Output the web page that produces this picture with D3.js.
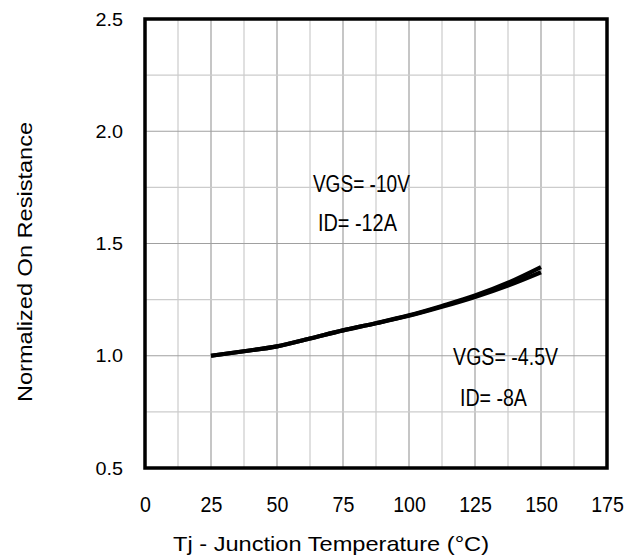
<!DOCTYPE html>
<html><head><meta charset="utf-8">
<script src="https://cdn.jsdelivr.net/npm/d3@7"></script>
<style>body{margin:0;background:#fff}</style>
</head><body>
<svg id="c" width="640" height="560"></svg>
<script>
const temps = [25, 37.5, 50, 62.5, 75, 87.5, 100, 112.5, 125, 137.5, 150];
const seriesVgs10 = [1.0, 1.02, 1.042, 1.077, 1.113, 1.145, 1.18, 1.222, 1.268, 1.325, 1.395];
const seriesVgs45 = [1.0, 1.02, 1.042, 1.077, 1.113, 1.145, 1.178, 1.218, 1.262, 1.313, 1.372];
const xTicks = [0, 25, 50, 75, 100, 125, 150, 175];
const yTicks = [0.5, 1.0, 1.5, 2.0, 2.5];
const labels = [
  {x: 63.6, y: 1.728, text: "VGS= -10V", w: 97},
  {x: 65.5, y: 1.555, text: "ID= -12A", w: 79},
  {x: 116.7, y: 0.959, text: "VGS= -4.5V", w: 105},
  {x: 119.3, y: 0.778, text: "ID= -8A", w: 67}
];

const svg = d3.select("#c");
const L = 145, R = 607, T = 19, B = 468;
const x = d3.scaleLinear().domain([0, 175]).range([L, R]);
const y = d3.scaleLinear().domain([0.5, 2.5]).range([B, T]);
const font = "'Liberation Sans',Arial,sans-serif";

// grid
const xg = d3.range(0, 175.1, 12.5), yg = d3.range(0.5, 2.51, 0.25);
svg.append("g").selectAll("line").data(xg).join("line")
  .attr("x1", d => x(d)).attr("x2", d => x(d)).attr("y1", T).attr("y2", B)
  .attr("stroke", d => d % 25 === 0 ? "#a0a0a0" : "#cccccc").attr("stroke-width", 1.2);
svg.append("g").selectAll("line").data(yg).join("line")
  .attr("y1", d => y(d)).attr("y2", d => y(d)).attr("x1", L).attr("x2", R)
  .attr("stroke", d => Math.abs(d * 2 - Math.round(d * 2)) < 1e-6 ? "#a0a0a0" : "#cccccc").attr("stroke-width", 1.2);

// axes (labels only)
const xa = svg.append("g").attr("transform", `translate(0,${B})`)
  .call(d3.axisBottom(x).tickValues(xTicks).tickSize(0).tickPadding(28).tickFormat(d3.format("d")));
const ya = svg.append("g").attr("transform", `translate(${L},0)`)
  .call(d3.axisLeft(y).tickValues(yTicks).tickSize(0).tickPadding(22).tickFormat(d3.format(".1f")));
xa.select(".domain").remove();
ya.select(".domain").remove();
xa.selectAll("text").attr("font-family", font).attr("font-size", 22).attr("fill", "#000")
  .attr("textLength", function() { return this.textContent.length * 10.9; })
  .attr("lengthAdjust", "spacingAndGlyphs");
ya.selectAll("text").attr("font-family", font).attr("font-size", 19).attr("fill", "#000")
  .attr("textLength", 27.5).attr("lengthAdjust", "spacingAndGlyphs");

// frame
svg.append("rect").attr("x", L).attr("y", T).attr("width", R - L).attr("height", B - T)
  .attr("fill", "none").attr("stroke", "#000").attr("stroke-width", 3.5);

// curves
const line = d3.line().x((d, i) => x(temps[i])).y(d => y(d)).curve(d3.curveMonotoneX);
[seriesVgs10, seriesVgs45].forEach(s => {
  svg.append("path").datum(s).attr("d", line).attr("fill", "none")
    .attr("stroke", "#000").attr("stroke-width", 4.2).attr("stroke-linecap", "butt");
});

// annotations
svg.append("g").selectAll("text").data(labels).join("text")
  .attr("x", d => x(d.x)).attr("y", d => y(d.y))
  .attr("font-family", font).attr("font-size", 23).attr("fill", "#000")
  .attr("textLength", d => d.w).attr("lengthAdjust", "spacingAndGlyphs")
  .text(d => d.text);

// axis titles
svg.append("text").attr("x", 173).attr("y", 551)
  .attr("font-family", font).attr("font-size", 21).attr("textLength", 316).attr("lengthAdjust", "spacingAndGlyphs")
  .text("Tj - Junction Temperature (°C)");
svg.append("text").attr("transform", `translate(32,402) rotate(-90)`)
  .attr("font-family", font).attr("font-size", 21).attr("textLength", 280).attr("lengthAdjust", "spacingAndGlyphs")
  .text("Normalized On Resistance");
</script>
</body></html>
